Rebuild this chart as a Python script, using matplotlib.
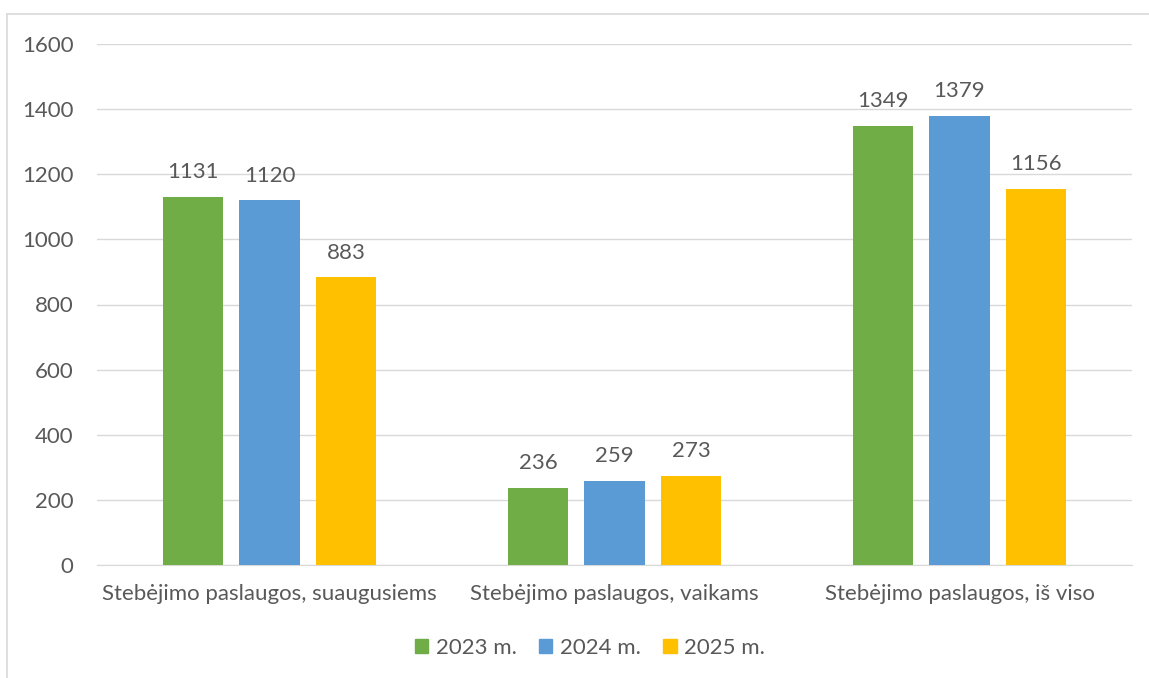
import numpy as np
import matplotlib.pyplot as plt
from matplotlib.patches import Rectangle
from matplotlib.lines import Line2D

categories = ['Stebėjimo paslaugos, suaugusiems',
              'Stebėjimo paslaugos, vaikams',
              'Stebėjimo paslaugos, iš viso']
series = ['2023 m.', '2024 m.', '2025 m.']
values_2023 = [1131, 236, 1349]
values_2024 = [1120, 259, 1379]
values_2025 = [883, 273, 1156]
colors = ['#70AD47', '#5B9BD5', '#FFC000']

plt.rcParams['font.family'] = ['Lato', 'DejaVu Sans']
text_color = '#595959'
fs = 16

fig = plt.figure(figsize=(11.49, 6.78), dpi=100)
W, H = 1149, 678
ax = fig.add_axes([97 / W, 1 - 565 / H, (1132 - 97) / W, (565 - 44) / H])

x = np.arange(len(categories))
width = 0.174
step = 0.222
all_vals = [values_2023, values_2024, values_2025]
for i, (name, vals, c) in enumerate(zip(series, all_vals, colors)):
    bars = ax.bar(x + (i - 1) * step, vals, width, color=c, label=name, zorder=3)
    for b, v in zip(bars, vals):
        ax.text(b.get_x() + b.get_width() / 2, v + 45, str(v), ha='center',
                va='bottom', fontsize=fs, color=text_color)

ax.set_xlim(-0.5, 2.5)
ax.set_ylim(0, 1600)
ax.set_yticks(range(0, 1601, 200))
ax.yaxis.grid(True, color='#D9D9D9', linewidth=1, zorder=0)
ax.set_xticks(x)
ax.set_xticklabels(categories)
ax.tick_params(axis='both', length=0, labelsize=fs, colors=text_color)
ax.tick_params(axis='x', pad=14)
ax.tick_params(axis='y', pad=17)
for s in ['top', 'right', 'left']:
    ax.spines[s].set_visible(False)
ax.spines['bottom'].set_color('#D9D9D9')

handles = [Rectangle((0, 0), 1, 1, color=c) for c in colors]
fig.legend(handles, series, loc='center', bbox_to_anchor=(590 / W, 1 - 648 / H),
           ncol=3, frameon=False, fontsize=fs, labelcolor=text_color,
           handlelength=0.6, handleheight=0.6, handletextpad=0.35, columnspacing=1.0)

# chart frame (left and top edges visible)
fig.add_artist(Line2D([7 / W, 7 / W], [0, 1 - 14 / H], transform=fig.transFigure,
                      color='#D9D9D9', linewidth=1.2))
fig.add_artist(Line2D([7 / W, 1], [1 - 14 / H, 1 - 14 / H], transform=fig.transFigure,
                      color='#D9D9D9', linewidth=1.2))

fig.savefig('out.png', dpi=100)
